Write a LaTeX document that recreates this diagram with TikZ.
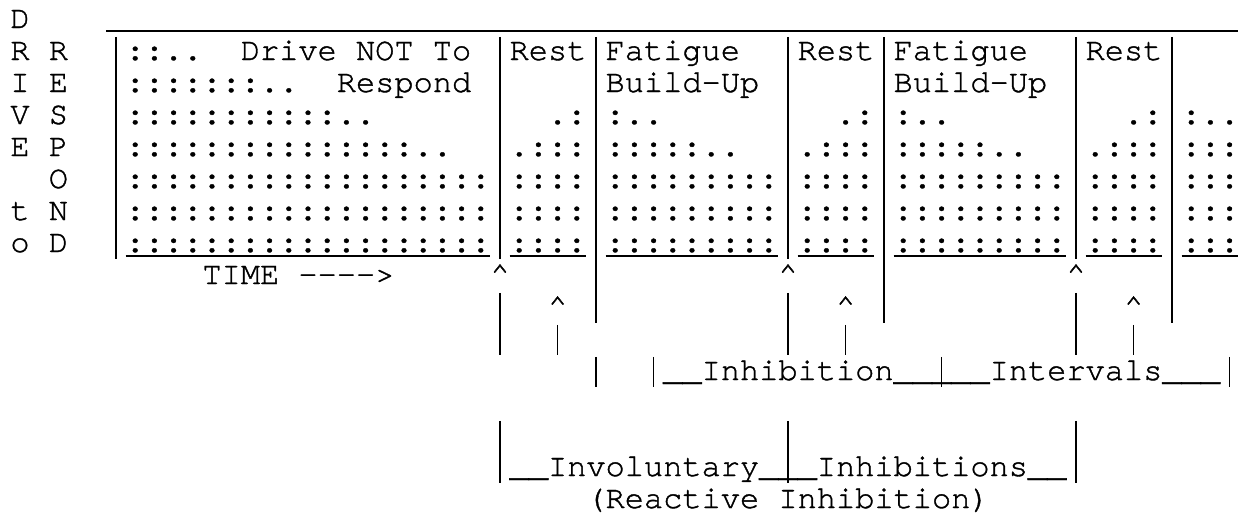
\documentclass[tikz,border=0pt]{standalone}
\usepackage{fontspec}
\setmonofont{texgyrecursor-regular.otf}[FakeBold=1.2]
\begin{document}
\begin{tikzpicture}[x=14.4pt, y=-24pt,
    txt/.style={anchor=base west, inner sep=0pt, outer sep=0pt,
      font=\ttfamily\fontsize{24}{24}\selectfont},
    bar/.style={line width=1.2pt},
    rule/.style={line width=1.2pt}]
  \useasboundingbox[fill=white] (-1.0417,0) rectangle (63.4375,16.09375);
  % column / row / text (row r sits on baseline r+0.875)
  \foreach[count=\i] \c/\r/\s in {%
    0/0/D, 0/1/R R, 0/2/I E, 0/3/V S, 0/4/E P, 2/5/O, 0/6/t N, 0/7/o D,
    6/1/::.., 12/1/Drive NOT To, 26/1/Rest, 31/1/Fatigue, 41/1/Rest,
    46/1/Fatigue, 56/1/Rest,
    6/2/:::::::.., 17/2/Respond, 31/2/Build-Up, 46/2/Build-Up,
    6/3/:::::::::::.., 28/3/.:, 31/3/:.., 43/3/.:, 46/3/:.., 58/3/.:, 61/3/:..,
    6/4/:::::::::::::::.., 26/4/.:::, 31/4/:::::.., 41/4/.:::, 46/4/:::::..,
    56/4/.:::, 61/4/:::,
    10/8/TIME ---->, 25/8/\textasciicircum, 40/8/\textasciicircum,
    55/8/\textasciicircum,
    28/9/\textasciicircum, 43/9/\textasciicircum, 58/9/\textasciicircum,
    34/11/\_\_Inhibition\_\_\_\_\_Intervals\_\_\_,
    26/14/\_\_Involuntary\_\_\_Inhibitions\_\_,
    30/15/{(Reactive Inhibition)}} {
    \node[txt] (w\i) at (\c-0.5, \r+0.875) {\s};
  }
  % full rows of dots
  \foreach \r in {5,6,7} {
    \foreach[count=\j] \c/\s in {6/:::::::::::::::::::, 26/::::, 31/:::::::::,
      41/::::, 46/:::::::::, 56/::::, 61/:::} {
      \node[txt] (f\r-\j) at (\c-0.5, \r+0.875) {\s};
    }
  }
  % vertical strokes: column / first row / last row
  \foreach \c/\a/\b in {5/1/7, 25/1/7, 25/9/10, 25/13/14, 28/10/10,
    30/1/9, 30/11/11, 33/11/11, 40/1/7, 40/9/10, 40/13/14, 43/10/10,
    45/1/9, 48/11/11, 55/1/7, 55/9/10, 55/13/14, 58/10/10, 60/1/9, 63/11/11}
    \draw[bar] (\c, \a+0.15) -- (\c, \b+1.08);
  % top rule and underline of the last dot row
  \draw[rule] (4.5, 0.96) -- (63.5, 0.96);
  \foreach \a/\b in {6/24, 26/29, 31/39, 41/44, 46/54, 56/59, 61/63}
    \draw[rule] (\a-0.5, 8.0) -- (\b+0.5, 8.0);
\end{tikzpicture}
\end{document}
